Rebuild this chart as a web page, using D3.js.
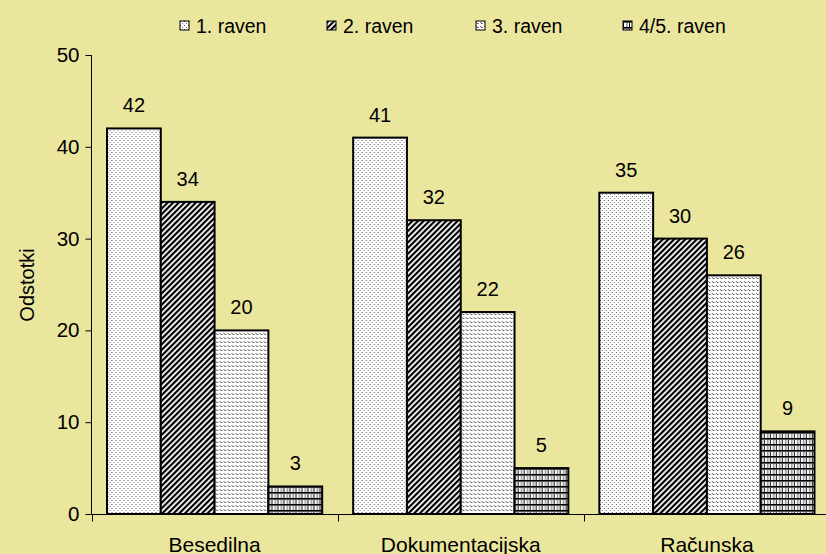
<!DOCTYPE html>
<html><head><meta charset="utf-8">
<script src="https://cdn.jsdelivr.net/npm/d3@7"></script>
<style>body{margin:0;background:#EBE69E;} svg{display:block;font-family:"Liberation Sans",Arial,sans-serif;}</style>
</head><body>
<svg id="c" width="826" height="554"></svg>
<script>
const categories = ["Besedilna", "Dokumentacijska", "Računska"];
const series = ["1. raven", "2. raven", "3. raven", "4/5. raven"];
const values = [
  [42, 34, 20, 3],
  [41, 32, 22, 5],
  [35, 30, 26, 9]
];
const yTicks = [0, 10, 20, 30, 40, 50];

const svg = d3.select("#c");
svg.append("rect").attr("width", 826).attr("height", 554).attr("fill", "#EBE69E");

const defs = svg.append("defs");
// pattern 1: sparse dots
let p = defs.append("pattern").attr("id", "p0").attr("patternUnits", "userSpaceOnUse").attr("width", 4).attr("height", 4);
p.append("rect").attr("width", 4).attr("height", 4).attr("fill", "#fff");
p.append("rect").attr("x", 0).attr("y", 0).attr("width", 1).attr("height", 1).attr("fill", "#444");
p.append("rect").attr("x", 2).attr("y", 2).attr("width", 1).attr("height", 1).attr("fill", "#777");
// pattern 2: diagonal stripes
p = defs.append("pattern").attr("id", "p1").attr("patternUnits", "userSpaceOnUse").attr("width", 4).attr("height", 4)
  .attr("patternTransform", "rotate(45)");
p.append("rect").attr("width", 4).attr("height", 4).attr("fill", "#fff");
p.append("rect").attr("x", 0).attr("width", 2.2).attr("height", 4).attr("fill", "#000");
// pattern 3: fine wavy dashes
p = defs.append("pattern").attr("id", "p2").attr("patternUnits", "userSpaceOnUse").attr("width", 4).attr("height", 4);
p.append("rect").attr("width", 4).attr("height", 4).attr("fill", "#fff");
p.append("rect").attr("x", 0).attr("y", 1).attr("width", 1).attr("height", 1).attr("fill", "#666");
p.append("rect").attr("x", 1).attr("y", 2).attr("width", 1).attr("height", 1).attr("fill", "#444");
p.append("rect").attr("x", 2).attr("y", 2).attr("width", 1).attr("height", 1).attr("fill", "#999");
// pattern 4: grid
p = defs.append("pattern").attr("id", "p3").attr("patternUnits", "userSpaceOnUse").attr("width", 6).attr("height", 6);
p.append("rect").attr("width", 6).attr("height", 6).attr("fill", "#fff");
p.append("rect").attr("x", 0).attr("width", 1).attr("height", 6).attr("fill", "#111");
p.append("rect").attr("x", 3).attr("width", 1).attr("height", 6).attr("fill", "#999");
p.append("rect").attr("x", 4).attr("width", 1).attr("height", 6).attr("fill", "#bbb");
p.append("rect").attr("y", 0).attr("width", 6).attr("height", 1).attr("fill", "#000");
p.append("rect").attr("y", 1).attr("width", 6).attr("height", 1).attr("fill", "#555");

const fills = ["url(#p0)", "url(#p1)", "url(#p2)", "url(#p3)"];

const x0 = d3.scaleBand().domain(categories).range([91.5, 830]).paddingInner(0).paddingOuter(0);
const x1 = d3.scaleBand().domain(series).range([15.5, x0.bandwidth() - 15.5]);
const y = d3.scaleLinear().domain([0, 50]).range([514, 55]);

// Y axis
const yAxis = svg.append("g").attr("transform", "translate(91.5,0)")
  .call(d3.axisLeft(y).tickValues(yTicks).tickSize(6).tickPadding(6));
yAxis.select(".domain").attr("stroke", "#000").attr("d", "M0,55V514");
yAxis.selectAll(".tick line").attr("stroke", "#000");
yAxis.selectAll("text").attr("font-size", 20.5).attr("fill", "#000").attr("font-family", "Liberation Sans, Arial, sans-serif");

// X axis
const xAxisG = svg.append("g").attr("transform", "translate(0,514.5)");
xAxisG.append("line").attr("x1", 91.5).attr("x2", 830).attr("stroke", "#000");
const boundaries = categories.map(c => x0(c)).concat([x0(categories[categories.length - 1]) + x0.bandwidth()]);
xAxisG.selectAll("line.t").data(boundaries).join("line").attr("class", "t")
  .attr("x1", d => Math.round(d) + 0.5).attr("x2", d => Math.round(d) + 0.5).attr("y1", 0).attr("y2", 7).attr("stroke", "#000");
xAxisG.selectAll("text").data(categories).join("text")
  .attr("x", d => x0(d) + x0.bandwidth() / 2).attr("y", 37)
  .attr("text-anchor", "middle").attr("font-size", 21).attr("fill", "#000").text(d => d);

// Bars
const groups = svg.selectAll("g.grp").data(categories).join("g").attr("class", "grp")
  .attr("transform", d => `translate(${x0(d)},0)`);
groups.each(function(c, ci) {
  const g = d3.select(this);
  series.forEach((s, si) => {
    const v = values[ci][si];
    g.append("rect")
      .attr("x", x1(s)).attr("y", y(v)).attr("width", x1.bandwidth()).attr("height", y(0) - y(v))
      .attr("fill", fills[si]).attr("stroke", "#000").attr("stroke-width", 2);
    g.append("text").attr("x", x1(s) + x1.bandwidth() / 2).attr("y", y(v) - 16)
      .attr("text-anchor", "middle").attr("font-size", 20).attr("fill", "#000").text(v);
  });
});

// Y title
svg.append("text").attr("transform", "translate(34,285) rotate(-90)")
  .attr("text-anchor", "middle").attr("font-size", 20).attr("fill", "#000").text("Odstotki");

// Legend
const legX = [180, 327, 476, 623];
const leg = svg.selectAll("g.leg").data(series).join("g").attr("class", "leg")
  .attr("transform", (d, i) => `translate(${legX[i]},21)`);
leg.append("rect").attr("width", 9).attr("height", 9).attr("fill", (d, i) => fills[i]).attr("stroke", "#000").attr("stroke-width", 1);
leg.append("text").attr("x", 16).attr("y", 11.5).attr("font-size", 19.5).attr("fill", "#000").text(d => d);
</script>
</body></html>
